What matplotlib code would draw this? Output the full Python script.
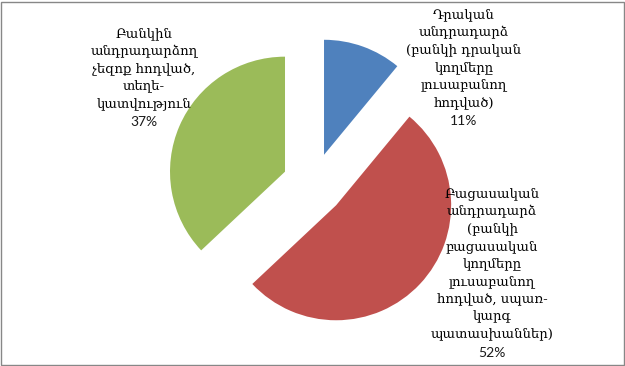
import matplotlib
matplotlib.use("Agg")
import matplotlib.pyplot as plt
from matplotlib.patches import Rectangle

# Data
categories = [
    "Դրական\nանդրադարձ\n(բանկի դրական\nկողմերը\nլուսաբանող\nհոդված)",
    "Բացասական\nանդրադարձ\n(բանկի\nբացասական\nկողմերը\nլուսաբանող\nհոդված, սպառ-\nկարգ\nպատասխաններ)",
    "Բանկին\nանդրադարձող\nչեզոք հոդված,\nտեղե-\nկատվություն",
]
values = [11, 52, 37]
colors = ["#4F81BD", "#C0504D", "#9BBB59"]

W, H = 625, 366
fig = plt.figure(figsize=(W / 100, H / 100), dpi=100)
ax = fig.add_axes([0, 0, 1, 1])

R_PX = 115.0
cx, cy = 313.5, 184.0
ax.pie(values, colors=colors, startangle=90, counterclock=False,
       explode=[0.27] * len(values), radius=1.0, center=(0, 0),
       wedgeprops=dict(linewidth=0), frame=False)
ax.set_xlim((0 - cx) / R_PX, (W - cx) / R_PX)
ax.set_ylim((cy - H) / R_PX, cy / R_PX)
ax.set_aspect("equal")
ax.axis("off")

# label positions in pixels (x center, first-line center y, percent y)
label_pos = [(464, 16, 121), (492, 195, 353), (144, 35, 122)]
arm_font = ["DejaVu Serif", "DejaVu Sans"]
for cat, val, (lx, ly, py) in zip(categories, values, label_pos):
    fig.text(lx / W, 1 - (ly - 8) / H, cat, ha="center", va="top", fontsize=9.5,
             family=arm_font, linespacing=1.45, color="black")
    fig.text(lx / W, 1 - py / H, f"{val}%", ha="center", va="center",
             fontsize=10, family=["Lato", "DejaVu Sans"], color="#1a1a1a")

fig.patches.append(Rectangle((1.5 / W, 1.5 / H), (W - 3) / W, (H - 3) / H,
                             transform=fig.transFigure, fill=False,
                             edgecolor="#878787", linewidth=1.0))

fig.savefig("out.png", dpi=100)
